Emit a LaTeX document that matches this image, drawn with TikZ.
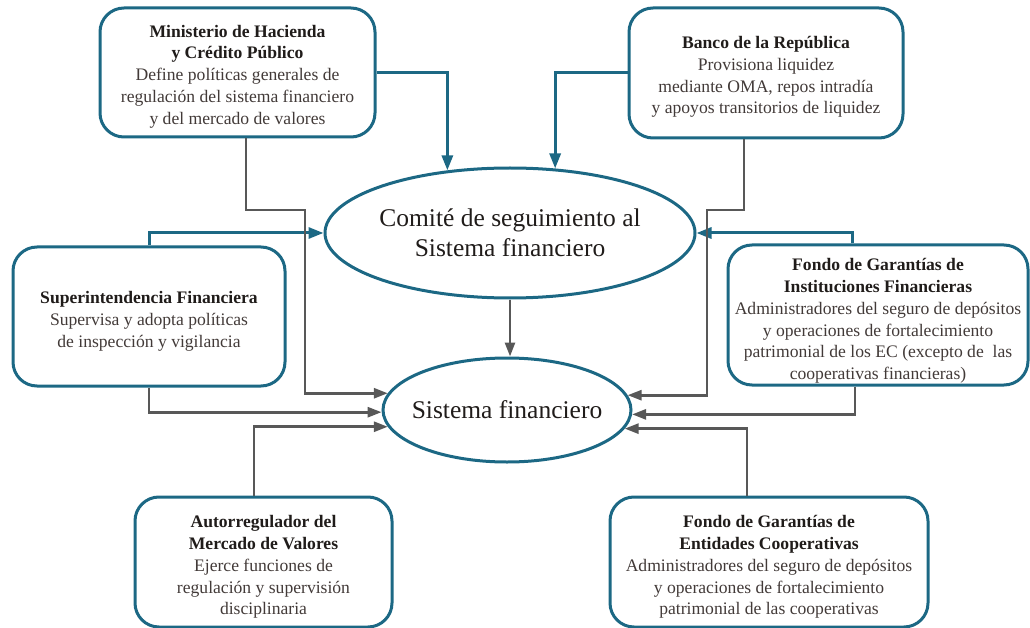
\documentclass[tikz,border=0pt]{standalone}
\usepackage{fontspec}
\setmainfont{Liberation Serif}
\usetikzlibrary{arrows.meta,shapes.geometric}
\definecolor{bl}{RGB}{28,104,132}
\definecolor{gr}{RGB}{88,88,88}
\definecolor{headc}{RGB}{32,28,26}
\definecolor{bodyc}{RGB}{66,58,56}
\newcommand\hd[1]{{\bfseries\color{headc}#1}}
\tikzset{
  box/.style={draw=bl, line width=3pt, rounded corners=24pt, inner sep=0pt},
  bt/.style={align=center, inner sep=0pt, font=\fontsize{17.6}{21.8}\selectfont, text=bodyc},
  ell/.style={draw=bl, line width=3pt, ellipse, inner sep=0pt, align=center,
    font=\fontsize{25.5}{30}\selectfont, text=headc},
  barr/.style={draw=bl, line width=3pt, -{Triangle[length=15pt,width=11pt]}},
  garr/.style={draw=gr, line width=2.7pt, -{Triangle[length=14pt,width=10pt]}}
}
\begin{document}
\begin{tikzpicture}[x=1pt,y=-1pt]
\useasboundingbox (0,0) rectangle (1030,628);
% boxes
\node[box, minimum width=275pt, minimum height=129pt] (min) at (237.5,72.5) {};
\node[bt] (minT) at ([yshift=-4pt]min.center)
  {\hd{Ministerio de Hacienda}\\\hd{y Crédito Público}\\Define políticas generales de\\regulación del sistema financiero\\y del mercado de valores};
\node[box, minimum width=274pt, minimum height=130pt] (ban) at (766,73) {};
\node[bt] (banT) at ([yshift=-4pt]ban.center)
  {\hd{Banco de la República}\\Provisiona liquidez\\mediante OMA, repos intradía\\y apoyos transitorios de liquidez};
\node[box, minimum width=272pt, minimum height=139pt] (sup) at (149,316.5) {};
\node[bt] (supT) at ([yshift=-5pt]sup.center)
  {\hd{Superintendencia Financiera}\\Supervisa y adopta políticas\\de inspección y vigilancia};
\node[box, minimum width=300pt, minimum height=140pt] (fgi) at (878,315) {};
\node[bt] (fgiT) at ([yshift=-6pt]fgi.center)
  {\hd{Fondo de Garantías de}\\\hd{Instituciones Financieras}\\Administradores del seguro de depósitos\\y operaciones de fortalecimiento\\patrimonial de los EC (excepto de \ las\\cooperativas financieras)};
\node[box, minimum width=257pt, minimum height=130pt] (amv) at (263.5,562) {};
\node[bt] (amvT) at ([yshift=-5pt]amv.center)
  {\hd{Autorregulador del}\\\hd{Mercado de Valores}\\Ejerce funciones de\\regulación y supervisión\\disciplinaria};
\node[box, minimum width=318pt, minimum height=130pt] (fgc) at (769,562) {};
\node[bt] (fgcT) at ([yshift=-5pt]fgc.center)
  {\hd{Fondo de Garantías de}\\\hd{Entidades Cooperativas}\\Administradores del seguro de depósitos\\y operaciones de fortalecimiento\\patrimonial de las cooperativas};
% ellipses
\node[ell, minimum width=370pt, minimum height=130pt, inner xsep=-8pt] (com) at (510,233)
  {Comité de seguimiento al\\Sistema financiero};
\node[ell, minimum width=248pt, minimum height=104pt, inner xsep=-8pt] (sis) at (507,410)
  {\raisebox{-2pt}{Sistema financiero}};
% blue arrows to Comité
\draw[barr] (min.east) -| (com.135);
\draw[barr] (ban.west) -| (com.55);
\draw[barr] (sup.north) |- (com.west);
\draw[barr] ([xshift=-26pt]fgi.north) |- (com.east);
% gray arrows to Sistema
\draw[garr] (com.south) -- (com.south |- sis.north);
\draw[garr] ([xshift=8.5pt]min.south) |- (305,210) |- (sis.172.8);
\draw[garr] (sup.south) |- (sis.181.5);
\draw[garr] ([xshift=-9.5pt]amv.north) |- (sis.188.8);
\draw[garr] ([xshift=-22pt]ban.south) |- (707,210) |- (sis.7.2);
\draw[garr] ([xshift=-23pt]fgi.south) |- (sis.358.5);
\draw[garr] ([xshift=-22pt]fgc.north) |- (sis.351.2);
\end{tikzpicture}
\end{document}
